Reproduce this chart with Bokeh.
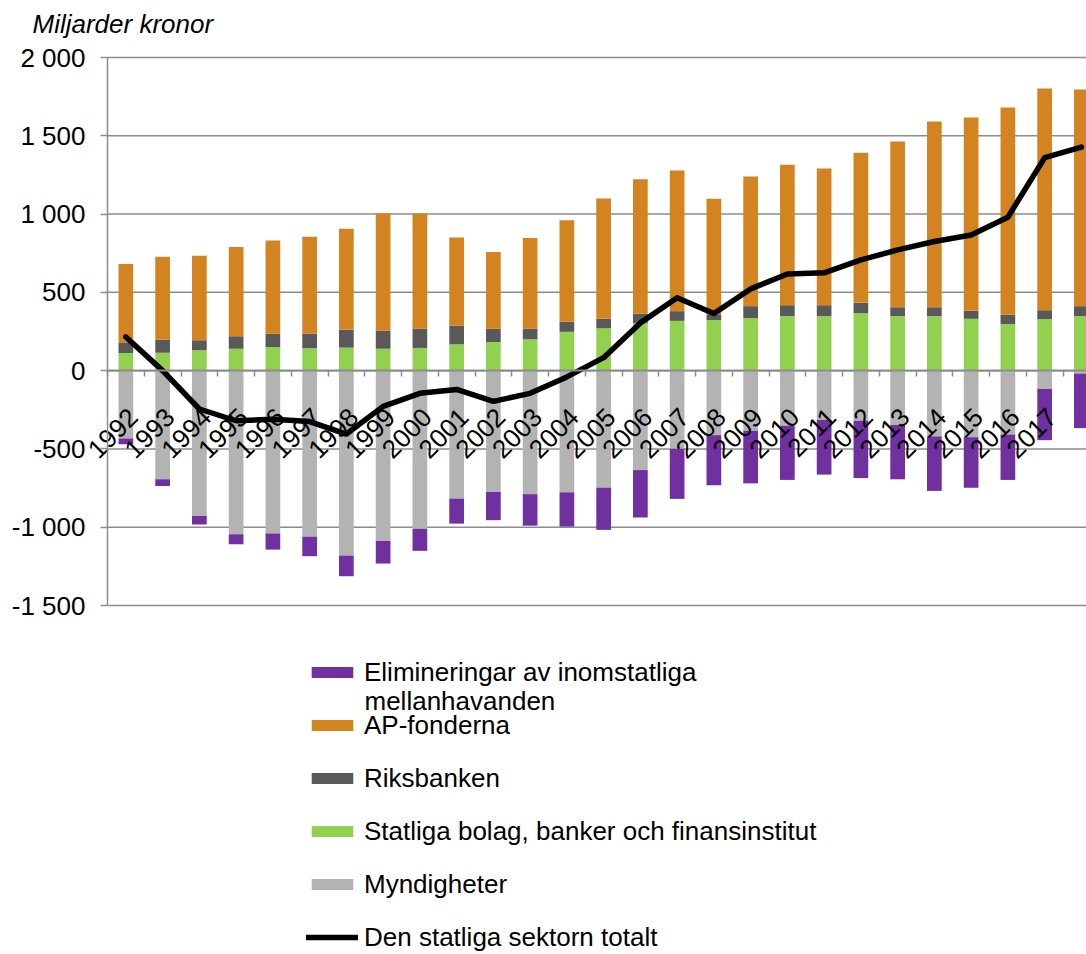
import numpy as np
from bokeh.plotting import figure
from bokeh.models import Range1d, FixedTicker, Legend, LegendItem, Label, ColumnDataSource
from bokeh.embed import file_html
from bokeh.resources import INLINE

years = [str(y) for y in range(1992, 2019)]
statliga_bolag = [113, 115, 130, 140, 151, 143, 147, 140, 145, 168, 183, 200, 248, 270,
                  304, 318, 323, 335, 348, 348, 367, 348, 348, 331, 297, 329, 348]
riksbanken = [64, 83, 64, 79, 85, 93, 115, 115, 123, 119, 85, 68, 64, 61,
              59, 62, 37, 77, 70, 70, 66, 57, 57, 51, 60, 57, 64]
ap_fonderna = [504, 530, 540, 570, 596, 619, 644, 748, 735, 564, 489, 579, 648, 769,
               860, 899, 738, 828, 897, 873, 958, 1059, 1186, 1235, 1324, 1416, 1384]
myndigheter = [-434, -694, -928, -1045, -1040, -1060, -1181, -1087, -1011, -817, -775, -789,
               -777, -747, -635, -499, -412, -384, -352, -314, -320, -346, -420, -425, -408,
               -117, -19]
elimineringar = [-36, -42, -55, -64, -103, -125, -132, -145, -140, -160, -180, -201, -219,
                 -270, -303, -320, -320, -336, -346, -350, -366, -348, -348, -323, -290,
                 -327, -348]
totalt = [215, 0, -245, -320, -310, -325, -405, -228, -145, -120, -196, -145, -40, 83,
          305, 465, 365, 522, 617, 625, 707, 771, 825, 866, 980, 1360, 1428]
y_ticks = [-1500, -1000, -500, 0, 500, 1000, 1500, 2000]
y_tick_labels = ["-1 500", "-1 000", "-500", "0", "500", "1 000", "1 500", "2 000"]

names = ["Elimineringar av inomstatliga", "AP-fonderna", "Riksbanken",
         "Statliga bolag, banker och finansinstitut", "Myndigheter",
         "Den statliga sektorn totalt"]
name_second_line = "mellanhavanden"
y_title = "Miljarder kronor"
C_ELIM, C_AP, C_RIKS, C_STAT, C_MYND = "#7030A0", "#D38421", "#595959", "#92D050", "#B3B3B3"

FONT = "Liberation Sans"
FS = "26px"
GRID = "#8c8c8c"

# ---- layout geometry (pixels) ----
W_PX, H_PX = 1086, 954
AXIS_X_PX = 107          # y-axis position from left
CAT_W = 36.75            # px per category
TOP_PX, BOT_PX = 57, 605  # pixel rows of y=2000 and y=-1500
y_lo, y_hi = min(y_ticks), max(y_ticks)

x_start = -0.5 - AXIS_X_PX / CAT_W
x_end = x_start + W_PX / CAT_W
k = (BOT_PX - TOP_PX) / (y_hi - y_lo)
y_top = y_hi + TOP_PX / k
y_bot = y_top - H_PX / k

idx = np.arange(len(years))
g = np.array(statliga_bolag, float)
r = np.array(riksbanken, float)
a = np.array(ap_fonderna, float)
m = np.array(myndigheter, float)
e = np.array(elimineringar, float)

src = ColumnDataSource(dict(
    x=idx, g_top=g, r_bot=g, r_top=g + r, a_bot=g + r, a_top=g + r + a,
    m_top=m, e_top=m, e_bot=m + e, tot=np.array(totalt, float)))

p = figure(width=W_PX, height=H_PX, output_backend="svg", toolbar_location=None,
           x_range=Range1d(x_start, x_end), y_range=Range1d(y_bot, y_top),
           min_border=0)
p.outline_line_color = None
p.background_fill_color = "white"
p.border_fill_color = "white"
p.xgrid.visible = False
p.ygrid.visible = False

# horizontal grid lines from the y axis to the right edge
p.segment(x0=-0.5, x1=x_end, y0=y_ticks, y1=y_ticks, line_color=GRID, line_width=1.5,
          level="underlay")

BW = 0.4
rm = p.vbar(x="x", width=BW, bottom=0, top="m_top", source=src, fill_color=C_MYND, line_color=None)
re_ = p.vbar(x="x", width=BW, bottom="e_bot", top="e_top", source=src, fill_color=C_ELIM, line_color=None)
rg = p.vbar(x="x", width=BW, bottom=0, top="g_top", source=src, fill_color=C_STAT, line_color=None)
rr = p.vbar(x="x", width=BW, bottom="r_bot", top="r_top", source=src, fill_color=C_RIKS, line_color=None)
ra = p.vbar(x="x", width=BW, bottom="a_bot", top="a_top", source=src, fill_color=C_AP, line_color=None)
rl = p.line(x="x", y="tot", source=src, line_color="black", line_width=5.5,
            line_join="round", line_cap="round")

ya = p.yaxis[0]
ya.fixed_location = -0.5
ya.bounds = (y_lo, y_hi)
ya.ticker = FixedTicker(ticks=y_ticks)
ya.major_label_overrides = {v: s for v, s in zip(y_ticks, y_tick_labels)}
ya.axis_line_color = GRID
ya.axis_line_width = 1.5
ya.major_tick_line_color = GRID
ya.major_tick_line_width = 1.5
ya.major_tick_out = 7
ya.major_tick_in = 0
ya.minor_tick_line_color = None
ya.major_label_standoff = 15
ya.major_label_text_font = FONT
ya.major_label_text_font_size = FS
ya.major_label_text_color = "black"

xa = p.xaxis[0]
xa.fixed_location = 0
xa.bounds = (-0.5, x_end)
LABEL_SHIFT = 0.2
xa.ticker = FixedTicker(ticks=list(idx + LABEL_SHIFT),
                        minor_ticks=list(np.arange(len(years) + 1) - 0.5))
xa.major_label_overrides = {float(i + LABEL_SHIFT): s for i, s in zip(idx, years)}
xa.axis_line_color = GRID
xa.axis_line_width = 2
xa.major_tick_line_color = None
xa.major_tick_out = 0
xa.major_tick_in = 0
xa.minor_tick_line_color = GRID
xa.minor_tick_line_width = 1.5
xa.minor_tick_out = 6
xa.minor_tick_in = 0
xa.major_label_orientation = np.pi / 4
xa.major_label_standoff = 36
xa.major_label_text_font = FONT
xa.major_label_text_font_size = FS
xa.major_label_text_color = "black"

# y-axis title
p.add_layout(Label(x=32, y=H_PX - 23, x_units="screen", y_units="screen", text=y_title,
                   text_font=FONT, text_font_size=FS, text_font_style="italic",
                   text_baseline="middle", text_color="black"))

legend = Legend(items=[
    LegendItem(label=names[0], renderers=[re_]),
    LegendItem(label=names[1], renderers=[ra]),
    LegendItem(label=names[2], renderers=[rr]),
    LegendItem(label=names[3], renderers=[rg]),
    LegendItem(label=names[4], renderers=[rm]),
    LegendItem(label=names[5], renderers=[rl]),
], location=(306, 1), glyph_width=52, glyph_height=14, label_standoff=6,
   label_height=32, spacing=21, padding=0, margin=0, border_line_color=None,
   background_fill_alpha=0, label_text_font=FONT, label_text_font_size=FS,
   label_text_color="black")
p.add_layout(legend)

p.add_layout(Label(x=364, y=H_PX - 700, x_units="screen", y_units="screen",
                   text=name_second_line, text_font=FONT, text_font_size=FS,
                   text_baseline="middle", text_color="black"))

open("out.html", "w").write(file_html(p, INLINE))
